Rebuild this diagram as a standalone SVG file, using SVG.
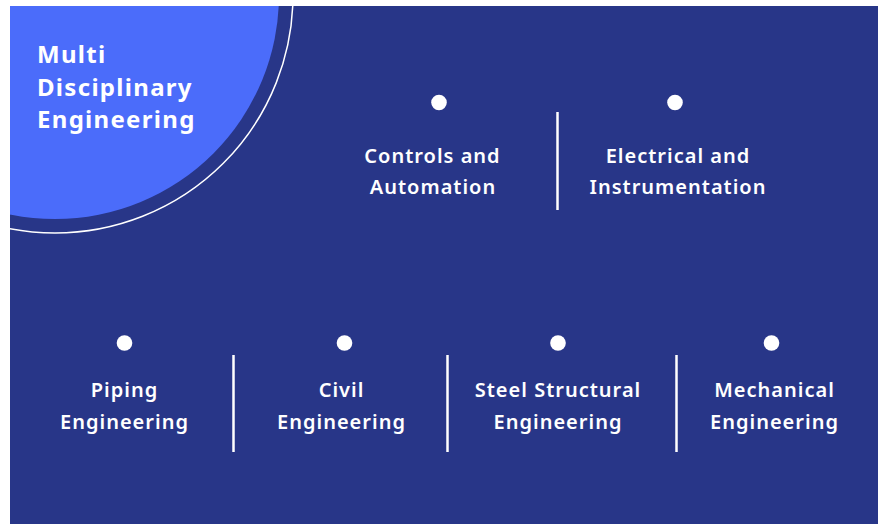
<svg xmlns="http://www.w3.org/2000/svg" width="883" height="524" viewBox="0 0 883 524">
  <style>
    .title { font-family: "Noto Sans", "Liberation Sans", sans-serif; font-weight: 700; font-size: 24px; fill: #ffffff; letter-spacing: 1.3px; }
    .label { font-family: "Noto Sans", "Liberation Sans", sans-serif; font-weight: 600; font-size: 20px; fill: #ffffff; text-anchor: middle; letter-spacing: 1px; }
    .dot { fill: #ffffff; }
    .divider { stroke: #ffffff; stroke-width: 2.5; }
  </style>
  <defs>
    <clipPath id="panel">
      <rect x="10" y="6" width="868" height="518"/>
    </clipPath>
  </defs>
  <rect x="0" y="0" width="883" height="524" fill="#ffffff"/>
  <rect x="10" y="6" width="868" height="518" fill="#283688"/>
  <g id="title-circle" clip-path="url(#panel)">
    <circle cx="55" cy="-5" r="224" fill="#4b6cfa"/>
    <circle cx="55" cy="-5" r="238" fill="none" stroke="#ffffff" stroke-width="1.5"/>
    <text class="title" x="37" y="63">Multi</text>
    <text class="title" x="37" y="96">Disciplinary</text>
    <text class="title" x="37" y="128">Engineering</text>
  </g>
  <g id="dividers">
    <line class="divider" x1="557.5" y1="112" x2="557.5" y2="210"/>
    <line class="divider" x1="233.5" y1="355" x2="233.5" y2="452"/>
    <line class="divider" x1="447.5" y1="355" x2="447.5" y2="452"/>
    <line class="divider" x1="676.5" y1="355" x2="676.5" y2="452"/>
  </g>
  <g id="controls-automation">
    <circle class="dot" cx="439" cy="102.5" r="7.8"/>
    <text class="label" x="432.5" y="163">Controls and</text>
    <text class="label" x="433" y="194">Automation</text>
  </g>
  <g id="electrical-instrumentation">
    <circle class="dot" cx="675" cy="102.5" r="7.8"/>
    <text class="label" x="678" y="163">Electrical and</text>
    <text class="label" x="678" y="194">Instrumentation</text>
  </g>
  <g id="piping-engineering">
    <circle class="dot" cx="124.5" cy="343" r="7.8"/>
    <text class="label" x="124.5" y="397">Piping</text>
    <text class="label" x="124.5" y="429">Engineering</text>
  </g>
  <g id="civil-engineering">
    <circle class="dot" cx="344.5" cy="343" r="7.8"/>
    <text class="label" x="341.5" y="397">Civil</text>
    <text class="label" x="341.5" y="429">Engineering</text>
  </g>
  <g id="steel-structural-engineering">
    <circle class="dot" cx="558" cy="343" r="7.8"/>
    <text class="label" x="558" y="397">Steel Structural</text>
    <text class="label" x="558" y="429">Engineering</text>
  </g>
  <g id="mechanical-engineering">
    <circle class="dot" cx="771.5" cy="343" r="7.8"/>
    <text class="label" x="774.5" y="397">Mechanical</text>
    <text class="label" x="774.5" y="429">Engineering</text>
  </g>
</svg>
